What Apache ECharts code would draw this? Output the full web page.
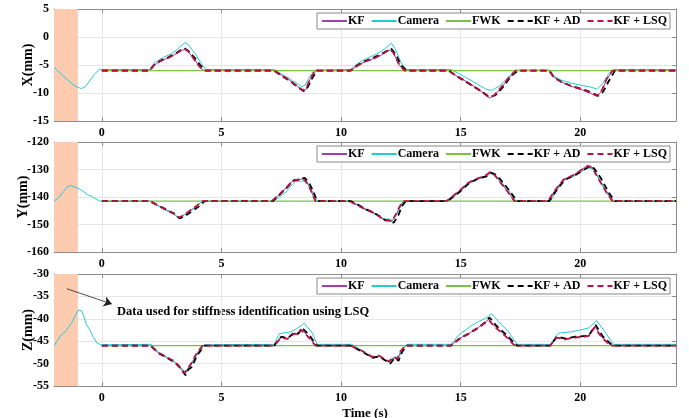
<!DOCTYPE html>
<html><head><meta charset="utf-8">
<script src="https://cdn.jsdelivr.net/npm/echarts@6/dist/echarts.min.js"></script>
<style>html,body{margin:0;padding:0;background:#fff}#c{width:689px;height:418px}</style>
</head><body><div id="c"></div>
<script>
const seriesNames = ['KF', 'Camera', 'FWK', 'KF + AD', 'KF + LSQ'];
const xTicks = [0, 5, 10, 15, 20];
const axisNames = ['X(mm)', 'Y(mm)', 'Z(mm)'];
const yRanges = [[-15, 5, 5], [-160, -120, 10], [-55, -30, 5]];
const shadedSpan = [-2, -1];

// ---- X panel ----
const xKF = [[0,-6],[2.0,-6],[2.2,-5.0],[2.5,-4.2],[2.8,-3.7],[3.1,-3.0],[3.3,-2.5],[3.45,-2.2],[3.6,-2.6],[3.8,-3.6],[4.0,-4.8],[4.2,-5.8],[4.3,-6],[7.2,-6],[7.5,-6.8],[7.8,-7.6],[8.0,-8.2],[8.2,-8.9],[8.4,-9.6],[8.55,-9.3],[8.7,-7.6],[8.9,-6.2],[9.0,-6],[10.4,-6],[10.7,-5.1],[11.0,-4.4],[11.4,-3.8],[11.7,-3.2],[11.9,-2.6],[12.05,-2.3],[12.2,-3.0],[12.4,-4.8],[12.6,-5.9],[12.7,-6],[14.5,-6],[14.8,-6.9],[15.1,-7.6],[15.4,-8.4],[15.7,-9.2],[16.0,-10.2],[16.2,-10.9],[16.4,-10.5],[16.7,-9.0],[17.0,-7.4],[17.3,-6],[18.7,-6],[18.9,-7.2],[19.2,-8.0],[19.6,-8.8],[20.0,-9.3],[20.4,-10.0],[20.7,-10.6],[20.9,-9.6],[21.1,-7.6],[21.35,-6],[24,-6]];
const xCam = [[-2,-5.5],[-1.8,-6.2],[-1.6,-7.0],[-1.4,-7.8],[-1.2,-8.5],[-1.0,-9.0],[-0.85,-9.2],[-0.7,-8.9],[-0.5,-7.8],[-0.3,-6.6],[-0.1,-5.8],[0,-5.8],[2.0,-5.8],[2.2,-4.6],[2.5,-3.8],[2.7,-3.4],[2.9,-3.0],[3.1,-2.4],[3.3,-1.6],[3.5,-1.0],[3.6,-1.3],[3.9,-3.0],[4.2,-5.0],[4.35,-5.8],[7.2,-5.8],[7.5,-6.6],[7.8,-7.3],[8.0,-7.9],[8.2,-8.4],[8.35,-8.9],[8.5,-8.6],[8.7,-7.0],[8.9,-5.9],[10.4,-5.8],[10.6,-5.0],[10.9,-4.2],[11.2,-3.6],[11.5,-3.0],[11.8,-2.2],[12.0,-1.5],[12.1,-1.1],[12.25,-2.0],[12.5,-4.5],[12.7,-5.8],[14.6,-5.8],[14.9,-6.5],[15.2,-7.2],[15.5,-7.9],[15.8,-8.7],[16.1,-9.4],[16.3,-9.5],[16.6,-8.8],[16.9,-7.6],[17.2,-6.2],[17.3,-5.9],[18.7,-5.9],[18.9,-7.0],[19.2,-7.7],[19.6,-8.2],[20.0,-8.6],[20.4,-8.9],[20.7,-9.3],[20.9,-8.5],[21.2,-6.5],[21.4,-5.8],[24,-5.8]];
const xFWK = [[0,-6],[24,-6]];
const xAD = [[0,-6],[2.0,-6],[2.2,-4.9],[2.5,-4.1],[2.8,-3.6],[3.1,-2.9],[3.3,-2.3],[3.45,-2.0],[3.65,-2.6],[3.9,-3.8],[4.1,-5.0],[4.35,-6],[7.2,-6],[7.5,-6.9],[7.8,-7.7],[8.0,-8.3],[8.2,-9.0],[8.45,-9.7],[8.6,-9.0],[8.8,-7.3],[9.0,-6],[10.4,-6],[10.7,-5.0],[11.0,-4.3],[11.4,-3.6],[11.7,-3.0],[11.9,-2.5],[12.1,-2.1],[12.3,-3.2],[12.5,-5.0],[12.75,-6],[14.5,-6],[14.8,-6.9],[15.1,-7.7],[15.4,-8.5],[15.7,-9.3],[16.0,-10.1],[16.2,-10.7],[16.45,-10.4],[16.8,-8.8],[17.1,-7.0],[17.4,-6],[18.7,-6],[18.9,-7.2],[19.2,-8.0],[19.6,-8.7],[20.0,-9.2],[20.4,-9.8],[20.75,-10.5],[20.95,-9.8],[21.2,-7.8],[21.45,-6],[24,-6]];
const xLSQ = [[0,-6],[2.0,-6],[2.2,-4.9],[2.5,-4.2],[2.8,-3.7],[3.1,-3.0],[3.3,-2.4],[3.45,-2.1],[3.6,-2.5],[3.8,-3.6],[4.0,-4.9],[4.25,-6],[7.2,-6],[7.5,-6.8],[7.8,-7.6],[8.0,-8.2],[8.2,-8.9],[8.4,-9.5],[8.55,-9.1],[8.7,-7.5],[8.9,-6.1],[9.0,-6],[10.4,-6],[10.7,-5.1],[11.0,-4.4],[11.4,-3.8],[11.7,-3.1],[11.9,-2.6],[12.05,-2.2],[12.2,-2.9],[12.4,-4.7],[12.65,-6],[14.5,-6],[14.8,-6.9],[15.1,-7.6],[15.4,-8.4],[15.7,-9.2],[16.0,-10.2],[16.2,-10.8],[16.4,-10.4],[16.7,-8.9],[17.0,-7.3],[17.3,-6],[18.7,-6],[18.9,-7.2],[19.2,-8.0],[19.6,-8.7],[20.0,-9.3],[20.4,-9.9],[20.7,-10.5],[20.9,-9.5],[21.1,-7.5],[21.35,-6],[24,-6]];

// ---- Y panel ----
const yKF = [[0,-141.5],[2.0,-141.5],[2.4,-143.4],[2.8,-145.1],[3.0,-146.0],[3.18,-147.6],[3.35,-147.0],[3.55,-145.8],[3.95,-143.4],[4.2,-141.5],[7.1,-141.5],[7.45,-138.9],[7.75,-136.3],[7.95,-134.3],[8.2,-133.8],[8.42,-133.3],[8.6,-135.0],[8.75,-137.9],[8.92,-141.5],[10.35,-141.5],[10.7,-143.0],[11.0,-144.3],[11.3,-145.4],[11.6,-147.1],[11.8,-148.3],[12.0,-148.4],[12.12,-148.9],[12.3,-146.4],[12.45,-143.5],[12.6,-141.5],[14.4,-141.5],[14.65,-139.7],[14.9,-138.0],[15.3,-134.8],[15.7,-133.3],[16.0,-132.4],[16.22,-130.8],[16.4,-131.6],[16.6,-134.0],[16.95,-137.8],[17.25,-141.5],[18.65,-141.5],[18.95,-137.4],[19.3,-133.6],[19.75,-131.8],[20.15,-129.4],[20.32,-128.4],[20.5,-129.2],[20.72,-132.6],[21.1,-138.4],[21.35,-141.5],[24,-141.5]];
const yCam = [[-2,-141.5],[-1.8,-140.2],[-1.6,-138],[-1.45,-136.4],[-1.3,-135.8],[-1.15,-136.3],[-1.0,-136.8],[-0.8,-137.8],[-0.6,-139.2],[-0.45,-139.6],[-0.3,-140.5],[-0.1,-141.4],[0,-141.5],[2.1,-141.5],[2.3,-143.0],[2.6,-144.5],[2.9,-145.8],[3.2,-147.3],[3.35,-147.0],[3.6,-145.5],[3.9,-143.8],[4.15,-141.8],[4.3,-141.5],[7.15,-141.5],[7.4,-140.2],[7.7,-138.2],[7.95,-135.5],[8.1,-134.3],[8.3,-134.3],[8.5,-134.0],[8.65,-135.5],[8.85,-139.0],[9.0,-141.5],[10.4,-141.5],[10.7,-142.8],[11.0,-144.6],[11.3,-145.8],[11.6,-147.0],[11.8,-148.0],[12.0,-148.0],[12.15,-148.5],[12.35,-146.0],[12.55,-142.5],[12.65,-141.5],[14.45,-141.5],[14.7,-140.0],[14.95,-138.3],[15.33,-135.2],[15.75,-133.4],[16.03,-132.8],[16.26,-131.4],[16.58,-133.4],[17.0,-137.5],[17.3,-141.5],[18.75,-141.5],[19.0,-137.8],[19.3,-134.0],[19.8,-132.2],[20.2,-129.9],[20.38,-129.4],[20.58,-130.2],[20.8,-133.6],[21.15,-138.6],[21.4,-141.5],[24,-141.5]];
const yFWK = [[0,-141.5],[24,-141.5]];
const yAD = [[0,-141.5],[2.0,-141.5],[2.45,-143.5],[2.85,-145.3],[3.05,-146.1],[3.25,-147.8],[3.42,-147.2],[3.65,-145.9],[4.05,-143.5],[4.3,-141.5],[7.15,-141.5],[7.5,-138.6],[7.8,-136.0],[8.0,-134.0],[8.25,-133.6],[8.48,-133.0],[8.66,-134.8],[8.82,-137.6],[9.0,-141.5],[10.4,-141.5],[10.75,-143.0],[11.05,-144.5],[11.35,-145.6],[11.65,-147.2],[11.85,-148.5],[12.05,-148.6],[12.2,-149.4],[12.4,-146.5],[12.55,-143.3],[12.7,-141.5],[14.45,-141.5],[14.7,-139.8],[14.95,-138.2],[15.35,-135.0],[15.75,-133.2],[16.05,-132.6],[16.28,-131.2],[16.45,-131.8],[16.7,-134.0],[17.05,-137.8],[17.35,-141.5],[18.7,-141.5],[19.0,-137.6],[19.35,-133.8],[19.8,-132.0],[20.2,-129.8],[20.38,-128.9],[20.58,-129.6],[20.85,-133.0],[21.2,-138.6],[21.45,-141.5],[24,-141.5]];
const yLSQ = [[0,-141.5],[2.0,-141.5],[2.4,-143.3],[2.8,-145.2],[3.0,-146.0],[3.2,-147.5],[3.36,-146.9],[3.56,-145.7],[3.95,-143.3],[4.2,-141.5],[7.1,-141.5],[7.45,-138.8],[7.75,-136.2],[7.95,-134.2],[8.2,-133.7],[8.42,-133.4],[8.6,-135.2],[8.76,-138.0],[8.93,-141.5],[10.35,-141.5],[10.7,-143.1],[11.0,-144.4],[11.3,-145.5],[11.6,-147.1],[11.8,-148.3],[12.0,-148.5],[12.12,-148.8],[12.3,-146.2],[12.45,-143.4],[12.6,-141.5],[14.4,-141.5],[14.65,-139.8],[14.9,-138.1],[15.3,-134.9],[15.7,-133.2],[16.0,-132.5],[16.22,-131.0],[16.4,-131.7],[16.6,-134.1],[16.95,-137.9],[17.25,-141.5],[18.65,-141.5],[18.95,-137.5],[19.3,-133.7],[19.75,-131.9],[20.15,-129.6],[20.32,-128.8],[20.5,-129.4],[20.72,-132.8],[21.1,-138.5],[21.35,-141.5],[24,-141.5]];

// ---- Z panel ----
const zKF = [[0,-46],[2.03,-46],[2.35,-47.6],[2.7,-48.6],[2.9,-49.2],[3.04,-49.6],[3.25,-50.8],[3.46,-52.3],[3.6,-51.0],[3.7,-50.5],[3.94,-48.0],[4.22,-46],[7.2,-46],[7.49,-44.1],[7.76,-44.4],[8.04,-43.2],[8.2,-43.5],[8.32,-42.3],[8.5,-43.2],[8.67,-44.2],[8.95,-46],[10.4,-46],[10.89,-47.3],[11.3,-48.6],[11.58,-48.3],[11.8,-49.0],[12.0,-49.6],[12.2,-48.6],[12.35,-49.0],[12.49,-47.3],[12.7,-46],[14.57,-46],[14.92,-44.5],[15.33,-43.3],[15.75,-41.9],[16.03,-40.8],[16.17,-40.1],[16.45,-41.8],[16.86,-43.7],[17.28,-46],[18.74,-46],[19.0,-44.1],[19.36,-44.5],[19.78,-44.1],[20.2,-43.9],[20.36,-43.7],[20.6,-41.7],[20.9,-44.1],[21.3,-46],[24,-46]];
const zCam = [[-2,-46],[-1.85,-44.8],[-1.7,-43.6],[-1.55,-43.0],[-1.4,-42.0],[-1.25,-40.8],[-1.1,-39.2],[-0.97,-38.0],[-0.85,-38.2],[-0.75,-39.5],[-0.65,-41.2],[-0.5,-42.5],[-0.35,-44.2],[-0.2,-45.4],[-0.05,-45.8],[0,-45.7],[2.07,-45.7],[2.35,-47.4],[2.7,-48.5],[3.04,-49.6],[3.3,-50.9],[3.5,-52.0],[3.6,-51.7],[3.8,-49.5],[4.08,-47.3],[4.3,-45.8],[7.2,-45.7],[7.42,-43.3],[7.9,-42.9],[8.18,-42.1],[8.46,-41.0],[8.8,-43.2],[9.0,-45.7],[10.45,-45.7],[10.9,-47.2],[11.3,-48.7],[11.6,-48.4],[11.85,-49.3],[12.05,-49.8],[12.25,-48.5],[12.4,-48.8],[12.55,-47.0],[12.75,-45.7],[14.6,-45.7],[14.92,-43.6],[15.4,-41.7],[15.75,-40.6],[16.03,-39.9],[16.3,-38.9],[16.58,-40.6],[17.0,-42.9],[17.35,-45.7],[18.75,-45.7],[18.8,-45.4],[19.08,-43.2],[19.64,-42.9],[20.33,-42.1],[20.68,-40.4],[21.03,-42.9],[21.38,-45.7],[24,-45.7]];
const zFWK = [[0,-46],[24,-46]];
const zAD = [[0,-46],[2.03,-46],[2.38,-47.7],[2.72,-48.7],[3.06,-49.8],[3.28,-51.0],[3.5,-52.6],[3.62,-51.3],[3.75,-50.8],[3.98,-48.2],[4.28,-46],[7.2,-46],[7.5,-44.0],[7.78,-44.3],[8.06,-43.0],[8.22,-43.3],[8.36,-42.0],[8.55,-43.0],[8.72,-44.0],[9.0,-46],[10.4,-46],[10.9,-47.4],[11.32,-48.7],[11.6,-48.4],[11.82,-49.2],[12.05,-50.0],[12.25,-48.7],[12.4,-49.4],[12.55,-47.4],[12.75,-46],[14.6,-46],[14.95,-44.4],[15.36,-43.2],[15.78,-41.8],[16.06,-40.6],[16.2,-39.7],[16.5,-41.6],[16.92,-43.6],[17.35,-46],[18.74,-46],[19.02,-44.0],[19.38,-44.4],[19.8,-44.0],[20.22,-43.8],[20.38,-43.5],[20.64,-41.4],[20.95,-44.0],[21.35,-46],[24,-46]];
const zLSQ = [[0,-46],[2.03,-46],[2.35,-47.5],[2.7,-48.5],[2.9,-49.1],[3.04,-49.5],[3.25,-50.7],[3.46,-52.1],[3.6,-50.9],[3.7,-50.3],[3.94,-47.9],[4.2,-46],[7.2,-46],[7.49,-44.2],[7.76,-44.5],[8.04,-43.3],[8.2,-43.6],[8.32,-42.5],[8.5,-43.3],[8.67,-44.3],[8.93,-46],[10.4,-46],[10.89,-47.2],[11.3,-48.5],[11.58,-48.2],[11.8,-48.9],[12.0,-49.5],[12.2,-48.5],[12.35,-48.9],[12.49,-47.2],[12.68,-46],[14.57,-46],[14.92,-44.6],[15.33,-43.4],[15.75,-42.0],[16.03,-40.9],[16.17,-40.3],[16.45,-41.9],[16.86,-43.8],[17.26,-46],[18.74,-46],[19.0,-44.2],[19.36,-44.6],[19.78,-44.2],[20.2,-44.0],[20.36,-43.8],[20.6,-41.9],[20.9,-44.2],[21.28,-46],[24,-46]];

const annotationText = 'Data used for stiffness identification using LSQ';
const arrowFrom = [-1.46, -33.3];
const arrowTo = [0.42, -36.7];

const panels = [
  [xKF, xCam, xFWK, xAD, xLSQ],
  [yKF, yCam, yFWK, yAD, yLSQ],
  [zKF, zCam, zFWK, zAD, zLSQ]
];

const FONT = 'Liberation Serif';
const colors = ['#a53bb8', '#22cdd6', '#7cc142', '#000000', '#c0123c'];
const styles = [
  {width: 1, type: 'solid'},
  {width: 1, type: 'solid'},
  {width: 1.3, type: 'solid'},
  {width: 1.8, type: [6, 4]},
  {width: 1.8, type: [6, 4]}
];
const grids = [
  {left: 54, right: 13, top: 9, height: 112, outerBoundsMode: 'none'},
  {left: 54, right: 13, top: 142, height: 110, outerBoundsMode: 'none'},
  {left: 54, right: 13, top: 274, height: 112, outerBoundsMode: 'none'}
];
const legendTops = [13, 146, 278];
const nameGaps = [19, 24, 19];

const xAxes = [], yAxes = [], series = [], legends = [];
const axisLineStyle = {color: '#8c8c8c', width: 1};
const splitStyle = {color: '#e6e6e6', width: 1};
grids.forEach((g, i) => {
  xAxes.push({
    type: 'value', gridIndex: i, min: -2, max: 24, splitNumber: 5,
    axisLine: {show: true, lineStyle: axisLineStyle, onZero: false},
    axisTick: {show: true, inside: true, length: 4, lineStyle: axisLineStyle},
    axisLabel: {show: true, showMinLabel: false, showMaxLabel: false, margin: 6,
      fontFamily: FONT, fontWeight: 'bold', fontSize: 12, color: '#000',
      formatter: v => (xTicks.indexOf(v) >= 0 ? String(v) : '')},
    splitLine: {show: true, lineStyle: splitStyle},
    name: i === 2 ? 'Time (s)' : '', nameLocation: 'middle', nameGap: 21,
    nameTextStyle: {fontFamily: FONT, fontWeight: 'bold', fontSize: 13, color: '#000'}
  });
  xAxes.push({
    type: 'value', gridIndex: i, min: -2, max: 24, position: 'top', splitNumber: 5,
    axisLine: {show: true, lineStyle: axisLineStyle, onZero: false},
    axisTick: {show: true, inside: true, length: 4, lineStyle: axisLineStyle},
    axisLabel: {show: false}, splitLine: {show: false}
  });
  const r = yRanges[i];
  yAxes.push({
    type: 'value', gridIndex: i, min: r[0], max: r[1], interval: r[2],
    axisLine: {show: true, lineStyle: axisLineStyle, onZero: false},
    axisTick: {show: true, inside: true, length: 4, lineStyle: axisLineStyle},
    axisLabel: {margin: 5, fontFamily: FONT, fontWeight: 'bold', fontSize: 12, color: '#000'},
    splitLine: {show: true, lineStyle: splitStyle},
    name: axisNames[i], nameLocation: 'middle', nameGap: nameGaps[i], nameMoveOverlap: false,
    nameTextStyle: {fontFamily: FONT, fontWeight: 'bold', fontSize: 14, color: '#000'}
  });
  yAxes.push({
    type: 'value', gridIndex: i, min: r[0], max: r[1], interval: r[2], position: 'right',
    axisLine: {show: true, lineStyle: axisLineStyle, onZero: false},
    axisTick: {show: true, inside: true, length: 4, lineStyle: axisLineStyle},
    axisLabel: {show: false}, splitLine: {show: false}
  });
  panels[i].forEach((data, k) => {
    const s = {
      type: 'line', name: seriesNames[k], xAxisIndex: 2 * i, yAxisIndex: 2 * i,
      data: data, showSymbol: false, symbol: 'none', animation: false,
      color: colors[k],
      lineStyle: {color: colors[k], width: styles[k].width, type: styles[k].type}
    };
    if (k === 1) {
      s.markArea = {silent: true, itemStyle: {color: '#fdcbb0', opacity: 1},
        data: [[{xAxis: shadedSpan[0]}, {xAxis: shadedSpan[1]}]]};
    }
    if (i === 2 && k === 2) {
      s.markLine = {silent: true, symbol: ['none', 'arrow'], symbolSize: 8,
        label: {show: false}, lineStyle: {color: '#222', width: 0.8, type: 'solid'},
        data: [[{coord: arrowFrom}, {coord: arrowTo}]]};
    }
    series.push(s);
  });
  legends.push({
    top: legendTops[i], right: 19, orient: 'horizontal', selectedMode: false,
    data: seriesNames, itemWidth: 25, itemHeight: 8, itemGap: 6,
    itemStyle: {opacity: 0, borderWidth: 0},
    padding: [2, 3, 2, 4], borderColor: '#888', borderWidth: 1, backgroundColor: '#fff',
    textStyle: {fontFamily: FONT, fontWeight: 'bold', fontSize: 12, color: '#000', padding: [0, 0, 0, -4]}
  });
});

const chart = echarts.init(document.getElementById('c'), null, {renderer: 'canvas'});
chart.setOption({
  animation: false,
  backgroundColor: '#fff',
  grid: grids,
  xAxis: xAxes,
  yAxis: yAxes,
  legend: legends,
  series: series,
  graphic: [{
    type: 'text', left: 117, top: 305,
    style: {text: annotationText, font: 'bold 12.5px "Liberation Serif"', fill: '#000'}
  }]
});
</script></body></html>
